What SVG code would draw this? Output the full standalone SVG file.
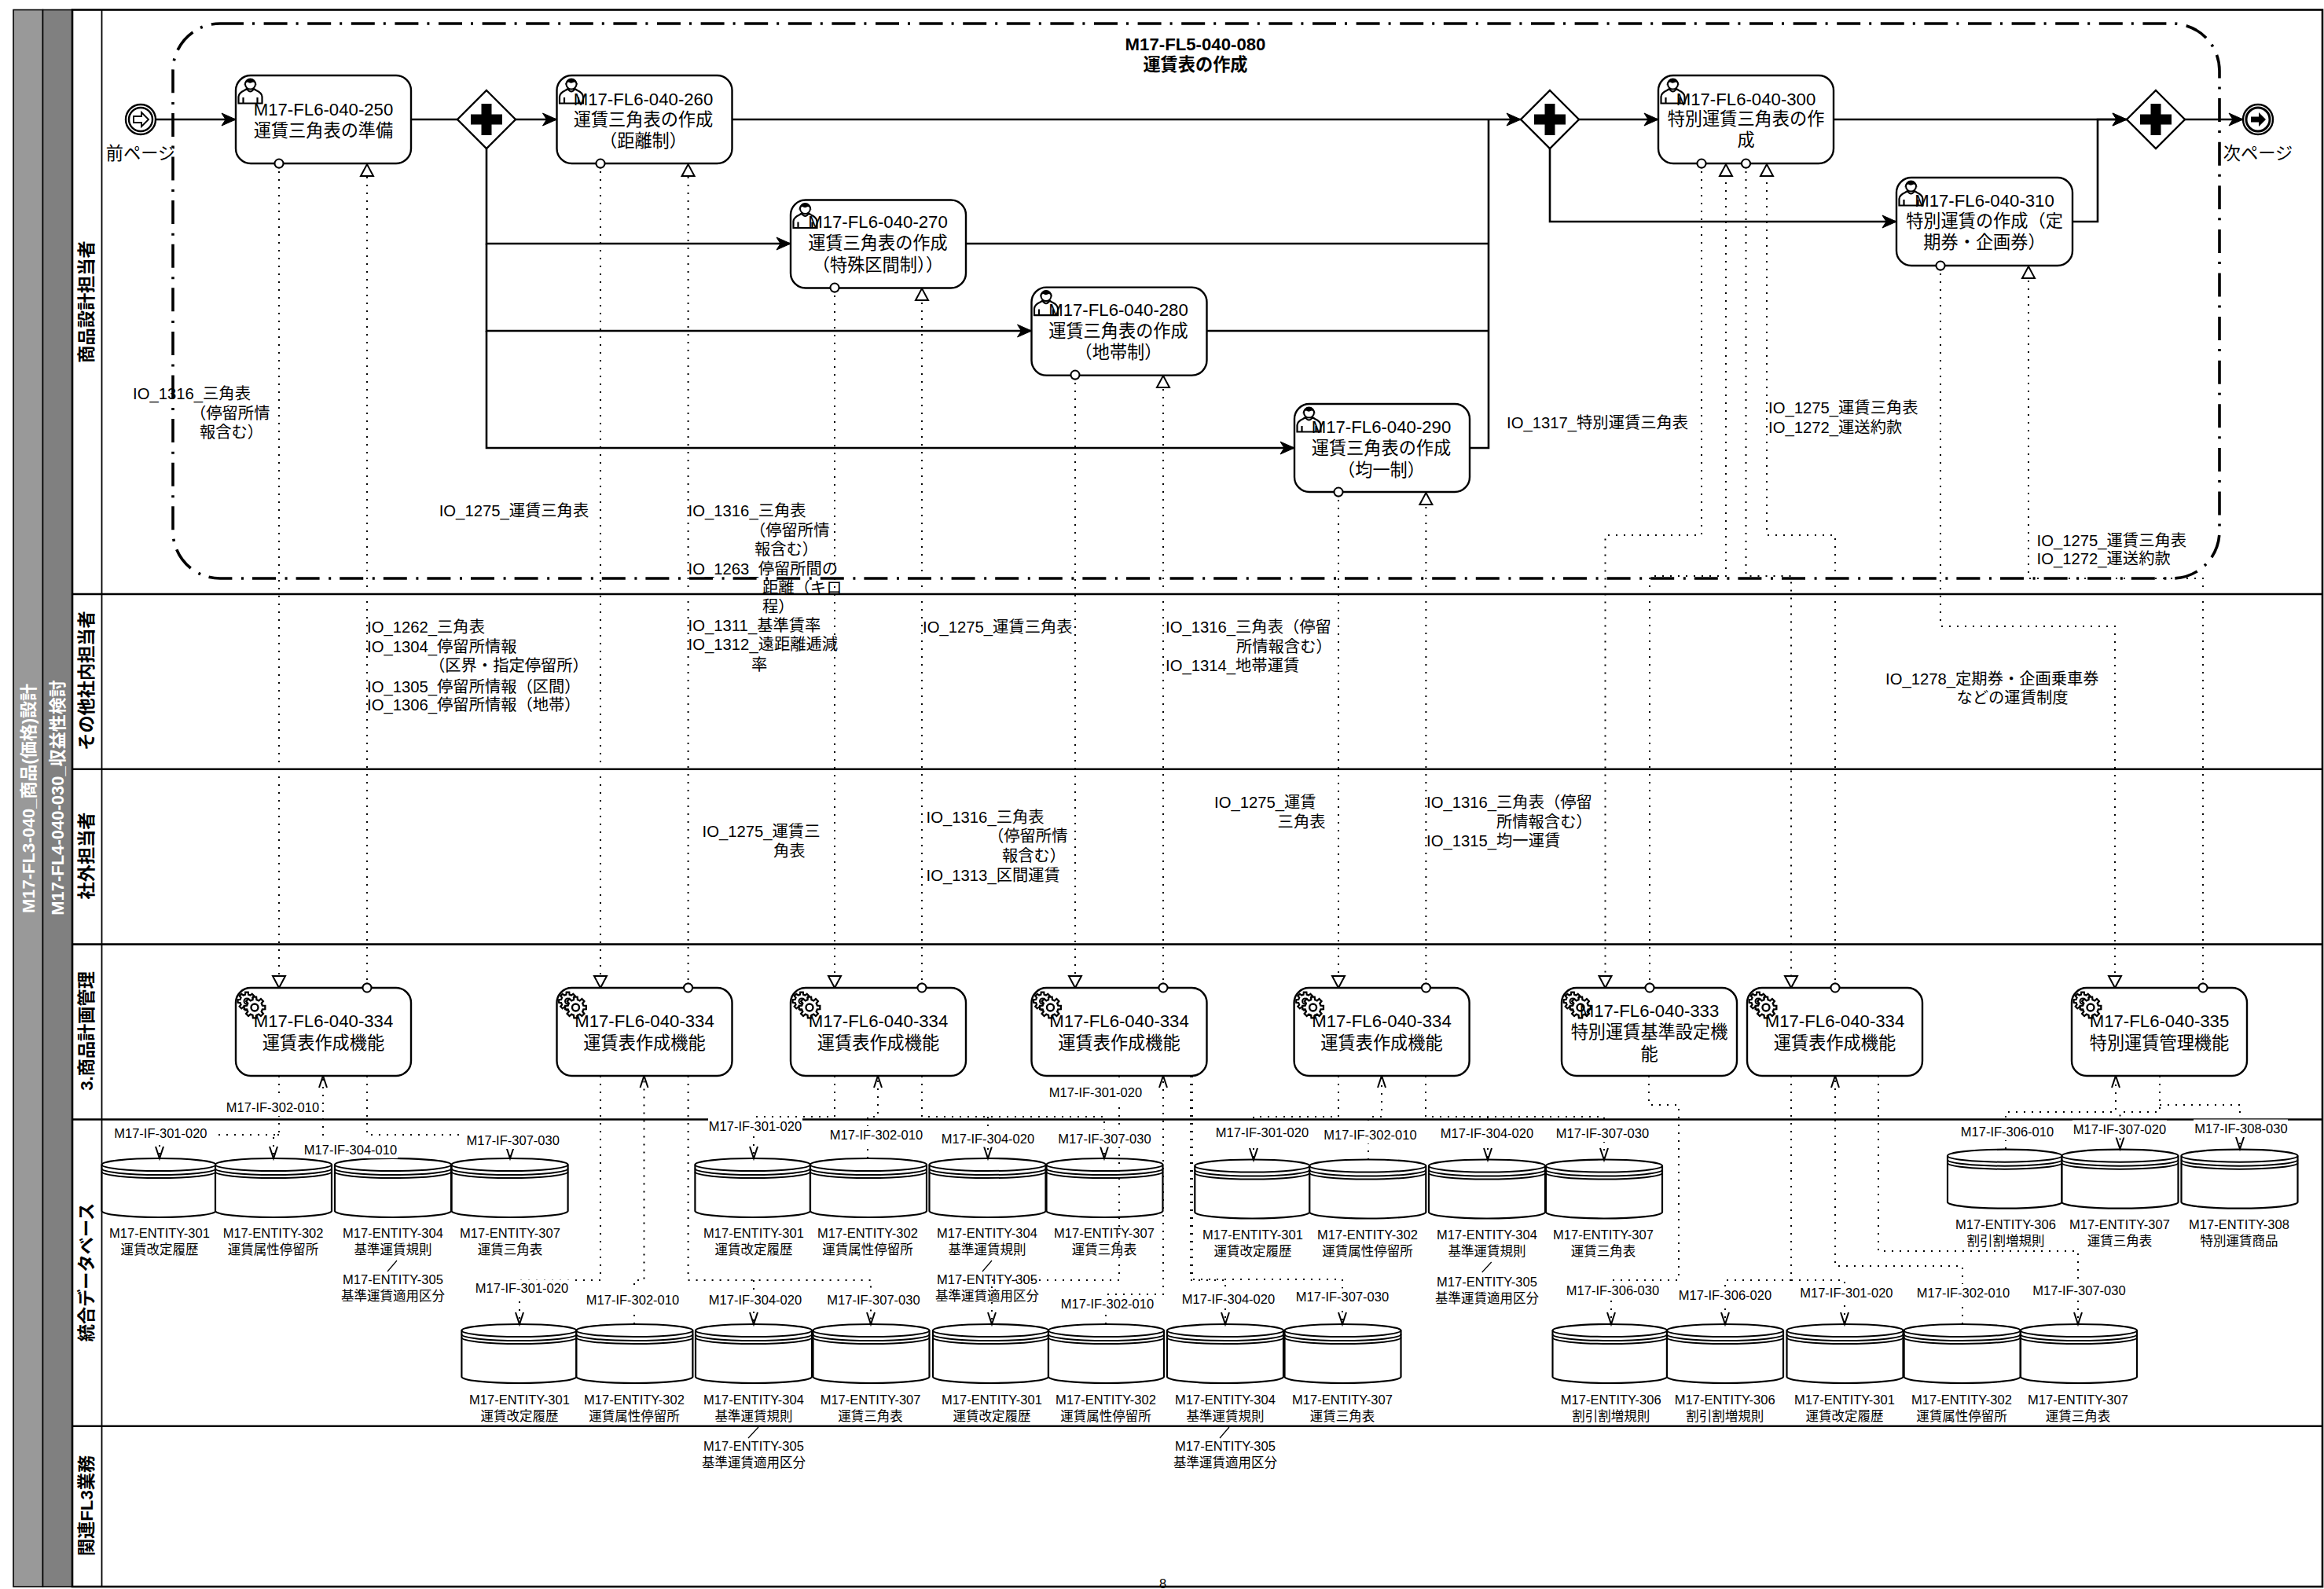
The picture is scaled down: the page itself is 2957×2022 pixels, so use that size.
<svg xmlns="http://www.w3.org/2000/svg" width="2957" height="2022" viewBox="0 0 2957 2022">
<style>
text{font-family:"Liberation Sans","Noto Sans CJK JP",sans-serif;fill:#000;dominant-baseline:central}
.t{font-size:22.2px;text-anchor:middle}
.b{font-size:22.2px;font-weight:bold;text-anchor:middle}
.w{font-size:22px;font-weight:bold;text-anchor:middle;fill:#fff}
.io{font-size:20.3px}
.s{font-size:16.5px;text-anchor:middle}
.n{fill:#fff;stroke:#000;stroke-width:2.4}
.c{fill:#fff;stroke:#000;stroke-width:2}
.lane{fill:none;stroke:#000;stroke-width:2.6}
.sf{fill:none;stroke:#000;stroke-width:2.6;marker-end:url(#seq)}
.sl{fill:none;stroke:#000;stroke-width:2.6}
.mf{fill:none;stroke:#000;stroke-width:2;stroke-dasharray:2 8}
.mm{marker-start:url(#dot);marker-end:url(#tri)}
.oa{marker-end:url(#open)}
.sl2{fill:none;stroke:#000;stroke-width:1.2}
.bg{fill:#fff;stroke:none}
</style>
<defs>
<marker id="seq" markerUnits="userSpaceOnUse" markerWidth="20" markerHeight="18" refX="18" refY="8" orient="auto" overflow="visible"><path d="M0,0 L18,8 L0,16 L5,8 Z" fill="#000" stroke="#000"/></marker>
<marker id="tri" markerUnits="userSpaceOnUse" markerWidth="18" markerHeight="18" refX="15" refY="8" orient="auto" overflow="visible"><path d="M0,0 L15,8 L0,16 Z" fill="#fff" stroke="#000" stroke-width="2"/></marker>
<marker id="dot" markerUnits="userSpaceOnUse" markerWidth="14" markerHeight="14" refX="7" refY="7" overflow="visible"><circle cx="7" cy="7" r="5.5" fill="#fff" stroke="#000" stroke-width="2"/></marker>
<marker id="open" markerUnits="userSpaceOnUse" markerWidth="16" markerHeight="12" refX="15" refY="5" orient="auto" overflow="visible"><path d="M0,0 L15,5 L0,10" fill="none" stroke="#000" stroke-width="2"/></marker>
<g id="ds"><path d="M0,8 A74,8 0 0 1 148,8 V67 A74,8 0 0 1 0,67 Z" fill="#fff" stroke="#000" stroke-width="2.2"/><path d="M0,8 A74,8 0 0 0 148,8 M0,13 A74,8 0 0 0 148,13 M0,17 A74,8 0 0 0 148,17" fill="none" stroke="#000" stroke-width="2"/></g>
<g id="gw"><polygon points="0,-37 37,0 0,37 -37,0" fill="#fff" stroke="#000" stroke-width="2.4"/><path d="M-20,-6.5 H-6.5 V-20 H6.5 V-6.5 H20 V6.5 H6.5 V20 H-6.5 V6.5 H-20 Z" fill="#000"/></g>
<g id="user"><path d="M3.5,35.5 V27 Q4,22 11,19 L14,17 Q18.5,24 23,17 L26,19 Q33,22 33.5,27 V35.5 Z M9.5,28 V35.5 M27.5,28 V35.5" fill="#fff" stroke="#000" stroke-width="2.2"/><circle cx="18.5" cy="11" r="6.5" fill="#fff" stroke="#000" stroke-width="2"/><path d="M10.5,13 A8,9 0 1 1 26.5,13 C25.5,10 24,9 22,8.5 C19,10 17,10 15,8.5 C13,9 11.5,10 10.5,13 Z" fill="#000"/></g>
<polygon id="cog" points="7.28,-1.81 9.88,-1.56 9.88,1.56 7.28,1.81 6.43,3.86 8.09,5.88 5.88,8.09 3.86,6.43 1.81,7.28 1.56,9.88 -1.56,9.88 -1.81,7.28 -3.86,6.43 -5.88,8.09 -8.09,5.88 -6.43,3.86 -7.28,1.81 -9.88,1.56 -9.88,-1.56 -7.28,-1.81 -6.43,-3.86 -8.09,-5.88 -5.88,-8.09 -3.86,-6.43 -1.81,-7.28 -1.56,-9.88 1.56,-9.88 1.81,-7.28 3.86,-6.43 5.88,-8.09 8.09,-5.88 6.43,-3.86" fill="#fff" stroke="#000"/>
<g id="gear"><use href="#cog" transform="translate(14,17) scale(1.15)" stroke-width="1.9"/><circle cx="14" cy="17" r="3.5" fill="#fff" stroke="#000" stroke-width="2"/><use href="#cog" transform="translate(24,25) scale(1.35)" stroke-width="1.7"/><circle cx="24" cy="25" r="4.5" fill="#fff" stroke="#000" stroke-width="2.4"/></g>
</defs>
<rect width="2957" height="2022" fill="#fff"/>
<g id="lanes">
<rect x="17" y="12.5" width="37.5" height="2006.5" fill="#999" stroke="#000" stroke-width="1.6"/>
<rect x="54.5" y="12.5" width="37.5" height="2006.5" fill="#808080" stroke="#000" stroke-width="1.6"/>
<rect x="92" y="12.5" width="2863" height="2006.5" fill="#fff" stroke="#000" stroke-width="2.6"/>
<path class="sl2" style="stroke-width:1.8" d="M129.5,12.5 V2019"/>
<path class="lane" d="M92,756 H2955 M92,978.7 H2955 M92,1201.6 H2955 M92,1424.5 H2955 M92,1814.7 H2955"/>
<text class="w" transform="translate(36,1016) rotate(-90)">M17-FL3-040_商品(価格)設計</text>
<text class="w" transform="translate(73,1015) rotate(-90)">M17-FL4-040-030_収益性検討</text>
<text class="b" transform="translate(110,384) rotate(-90)">商品設計担当者</text>
<text class="b" transform="translate(110,866) rotate(-90)">その他社内担当者</text>
<text class="b" transform="translate(110,1089) rotate(-90)">社外担当者</text>
<text class="b" transform="translate(110,1312) rotate(-90)">3.商品計画管理</text>
<text class="b" transform="translate(110,1619) rotate(-90)">統合データベース</text>
<text class="b" transform="translate(110,1916) rotate(-90)">関連FL3業務</text>
</g>
<g id="subprocess-m17-fl5-040-080">
<rect x="220" y="30" width="2604" height="706" rx="60" ry="60" fill="none" stroke="#000" stroke-width="3.6" stroke-dasharray="30 11 3 11.6"/>
<text class="b" x="1521" y="56.7">M17-FL5-040-080</text>
<text class="b" x="1521" y="82">運賃表の作成</text>
</g>
<g id="datastores">
<g id="ds-a1"><use href="#ds" transform="translate(129.5,1474) scale(.98,1)"/><text class="s" x="203" y="1568.6">M17-ENTITY-301</text><text class="s" x="203" y="1589.6">運賃改定履歴</text></g>
<g id="ds-a2"><use href="#ds" x="274" y="1474"/><text class="s" x="347.6" y="1568.6">M17-ENTITY-302</text><text class="s" x="347.6" y="1589.6">運賃属性停留所</text></g>
<g id="ds-a3"><use href="#ds" x="426" y="1474"/><path class="sl2" d="M505,1604 L493,1618"/><text class="s" x="500" y="1568.6">M17-ENTITY-304</text><text class="s" x="500" y="1589.6">基準運賃規則</text><text class="s" x="500" y="1628.4">M17-ENTITY-305</text><text class="s" x="500" y="1649">基準運賃適用区分</text></g>
<g id="ds-a4"><use href="#ds" x="574.6" y="1474"/><text class="s" x="649" y="1568.6">M17-ENTITY-307</text><text class="s" x="649" y="1589.6">運賃三角表</text></g>
<g id="ds-b1"><use href="#ds" transform="translate(587.4,1685) scale(.986,1)"/><text class="s" x="661" y="1780.5">M17-ENTITY-301</text><text class="s" x="661" y="1801.5">運賃改定履歴</text></g>
<g id="ds-b2"><use href="#ds" x="733.4" y="1685"/><text class="s" x="807" y="1780.5">M17-ENTITY-302</text><text class="s" x="807" y="1801.5">運賃属性停留所</text></g>
<g id="ds-b3"><use href="#ds" x="885" y="1685"/><path class="sl2" d="M965,1816 L952,1830"/><text class="s" x="959" y="1780.5">M17-ENTITY-304</text><text class="s" x="959" y="1801.5">基準運賃規則</text><text class="s" x="959" y="1840">M17-ENTITY-305</text><text class="s" x="959" y="1860.7">基準運賃適用区分</text></g>
<g id="ds-b4"><use href="#ds" x="1034.5" y="1685"/><text class="s" x="1107.6" y="1780.5">M17-ENTITY-307</text><text class="s" x="1107.6" y="1801.5">運賃三角表</text></g>
<g id="ds-b5"><use href="#ds" transform="translate(1187,1685) scale(.993,1)"/><text class="s" x="1262" y="1780.5">M17-ENTITY-301</text><text class="s" x="1262" y="1801.5">運賃改定履歴</text></g>
<g id="ds-b6"><use href="#ds" transform="translate(1334,1685) scale(.993,1)"/><text class="s" x="1407" y="1780.5">M17-ENTITY-302</text><text class="s" x="1407" y="1801.5">運賃属性停留所</text></g>
<g id="ds-b7"><use href="#ds" x="1485" y="1685"/><path class="sl2" d="M1564,1816 L1552,1830"/><text class="s" x="1559" y="1780.5">M17-ENTITY-304</text><text class="s" x="1559" y="1801.5">基準運賃規則</text><text class="s" x="1559" y="1840">M17-ENTITY-305</text><text class="s" x="1559" y="1860.7">基準運賃適用区分</text></g>
<g id="ds-b8"><use href="#ds" x="1634.5" y="1685"/><text class="s" x="1708" y="1780.5">M17-ENTITY-307</text><text class="s" x="1708" y="1801.5">運賃三角表</text></g>
<g id="ds-c1"><use href="#ds" transform="translate(884.4,1474) scale(.99,1)"/><text class="s" x="959" y="1568.6">M17-ENTITY-301</text><text class="s" x="959" y="1589.6">運賃改定履歴</text></g>
<g id="ds-c2"><use href="#ds" x="1031" y="1474"/><text class="s" x="1104" y="1568.6">M17-ENTITY-302</text><text class="s" x="1104" y="1589.6">運賃属性停留所</text></g>
<g id="ds-c3"><use href="#ds" x="1182.5" y="1474"/><path class="sl2" d="M1262,1604 L1250,1618"/><text class="s" x="1256" y="1568.6">M17-ENTITY-304</text><text class="s" x="1256" y="1589.6">基準運賃規則</text><text class="s" x="1256" y="1628.4">M17-ENTITY-305</text><text class="s" x="1256" y="1649">基準運賃適用区分</text></g>
<g id="ds-c4"><use href="#ds" x="1331.5" y="1474"/><text class="s" x="1405" y="1568.6">M17-ENTITY-307</text><text class="s" x="1405" y="1589.6">運賃三角表</text></g>
<g id="ds-d1"><use href="#ds" transform="translate(1520.3,1475.5) scale(.986,1)"/><text class="s" x="1594" y="1570.7">M17-ENTITY-301</text><text class="s" x="1594" y="1591.7">運賃改定履歴</text></g>
<g id="ds-d2"><use href="#ds" x="1666.3" y="1475.5"/><text class="s" x="1740" y="1570.7">M17-ENTITY-302</text><text class="s" x="1740" y="1591.7">運賃属性停留所</text></g>
<g id="ds-d3"><use href="#ds" x="1818" y="1475.5"/><path class="sl2" d="M1897.7,1606 L1885.7,1619"/><text class="s" x="1892" y="1570.7">M17-ENTITY-304</text><text class="s" x="1892" y="1591.7">基準運賃規則</text><text class="s" x="1892" y="1630.5">M17-ENTITY-305</text><text class="s" x="1892" y="1651.5">基準運賃適用区分</text></g>
<g id="ds-d4"><use href="#ds" x="1967" y="1475.5"/><text class="s" x="2040" y="1570.7">M17-ENTITY-307</text><text class="s" x="2040" y="1591.7">運賃三角表</text></g>
<g id="ds-e1"><use href="#ds" transform="translate(1975.5,1685) scale(.983,1)"/><text class="s" x="2049.7" y="1780.5">M17-ENTITY-306</text><text class="s" x="2049.7" y="1801.5">割引割増規則</text></g>
<g id="ds-e2"><use href="#ds" x="2121" y="1685"/><text class="s" x="2194.7" y="1780.5">M17-ENTITY-306</text><text class="s" x="2194.7" y="1801.5">割引割増規則</text></g>
<g id="ds-e3"><use href="#ds" x="2273.5" y="1685"/><text class="s" x="2347" y="1780.5">M17-ENTITY-301</text><text class="s" x="2347" y="1801.5">運賃改定履歴</text></g>
<g id="ds-e4"><use href="#ds" x="2422.6" y="1685"/><text class="s" x="2496" y="1780.5">M17-ENTITY-302</text><text class="s" x="2496" y="1801.5">運賃属性停留所</text></g>
<g id="ds-e5"><use href="#ds" x="2571" y="1685"/><text class="s" x="2644" y="1780.5">M17-ENTITY-307</text><text class="s" x="2644" y="1801.5">運賃三角表</text></g>
<g id="ds-f1"><use href="#ds" transform="translate(2478,1462.7) scale(.983,1)"/><text class="s" x="2552" y="1557.6">M17-ENTITY-306</text><text class="s" x="2552" y="1578.6">割引割増規則</text></g>
<g id="ds-f2"><use href="#ds" x="2623.5" y="1462.7"/><text class="s" x="2697" y="1557.6">M17-ENTITY-307</text><text class="s" x="2697" y="1578.6">運賃三角表</text></g>
<g id="ds-f3"><use href="#ds" x="2775.5" y="1462.7"/><text class="s" x="2849" y="1557.6">M17-ENTITY-308</text><text class="s" x="2849" y="1578.6">特別運賃商品</text></g>
</g>
<g id="connectors">
<path class="sf" d="M198,152 H300"/>
<path class="sl" d="M523,152 H582"/>
<path class="sf" d="M656,152 H708.5"/>
<path class="sf" d="M931.5,152 H1935"/>
<path class="sf" d="M619,189 V310 H1006"/>
<path class="sf" d="M619,310 V421 H1312.5"/>
<path class="sf" d="M619,421 V570 H1647"/>
<path class="sl" d="M1229,310 H1894 M1535.5,421 H1894 M1870,570 H1894 V152"/>
<path class="sf" d="M2009,152 H2110"/>
<path class="sf" d="M1972,189 V282 H2413"/>
<path class="sf" d="M2333,152 H2706"/>
<path class="sf" d="M2637,282 H2669 V152 H2706"/>
<path class="sf" d="M2780,152 H2854"/>
<path class="mf mm" d="M355,208 V1257"/><path class="mf mm" d="M467,1257 V209"/>
<path class="mf mm" d="M764,208 V1257"/><path class="mf mm" d="M875.6,1257 V209"/>
<path class="mf mm" d="M1062,366 V1257"/><path class="mf mm" d="M1173,1257 V367"/>
<path class="mf mm" d="M1368,477 V1257"/><path class="mf mm" d="M1480,1257 V478"/>
<path class="mf mm" d="M1703,626 V1257"/><path class="mf mm" d="M1814.4,1257 V627"/>
<path class="mf mm" d="M2165,208 V681 H2042.5 V1257"/>
<path class="mf mm" d="M2099,1257 V733 H2196 V209"/>
<path class="mf mm" d="M2221.5,208 V733 H2279 V1257"/>
<path class="mf mm" d="M2335,1257 V681 H2248 V209"/>
<path class="mf mm" d="M2469,338 V797 H2691 V1257"/>
<path class="mf mm" d="M2803,1257 V736 H2581 V339"/>
<path class="mf" d="M355,1369 V1444 H271"/><path class="mf oa" d="M203,1457 V1474"/><path class="mf oa" d="M355,1444 H348 V1474"/>
<path class="mf oa" d="M411,1455 V1369"/><path class="mf" d="M467,1369 V1444 H590"/><path class="mf oa" d="M649,1460 V1474"/>
<path class="mf oa" d="M764,1369 V1629 H661 V1685"/><path class="mf oa" d="M807,1685 V1629 H819.5 V1369"/>
<path class="mf oa" d="M875.6,1369 V1629 H1108 V1685"/><path class="mf oa" d="M959,1629 V1685"/>
<path class="mf oa" d="M1062,1369 V1421 H959 V1474"/><path class="mf oa" d="M1104,1474 V1421 H1117 V1369"/>
<path class="mf oa" d="M1173,1369 V1421 H1405 V1474"/><path class="mf oa" d="M1257,1421 V1474"/>
<path class="mf oa" d="M1424,1369 V1629 H1262 V1685"/><path class="mf oa" d="M1407,1685 V1647 H1480 V1369"/>
<path class="mf oa" d="M1515,1369 V1629 H1559 V1685"/><path class="mf oa" d="M1517,1369 V1628 H1708 V1685"/>
<path class="mf oa" d="M1703,1369 V1421 H1595 V1476"/><path class="mf oa" d="M1741,1476 V1421 H1758 V1369"/>
<path class="mf oa" d="M1814,1369 V1421 H2041 V1476"/><path class="mf oa" d="M1893,1421 V1476"/>
<path class="mf oa" d="M2098,1369 V1406 H2136 V1629 H2050 V1685"/>
<path class="mf oa" d="M2279,1369 V1629 H2195 V1685"/><path class="mf oa" d="M2279,1629 H2347 V1685"/>
<path class="mf oa" d="M2497,1685 V1611 H2335 V1369"/>
<path class="mf oa" d="M2390,1369 V1592 H2644 V1685"/>
<path class="mf oa" d="M2552,1462 V1415 H2692 V1369"/>
<path class="mf oa" d="M2748,1369 V1415 H2697.5 V1462"/>
<path class="mf oa" d="M2748,1406 H2850 V1462"/>
</g>
<g id="if-labels">
<rect class="bg" x="287" y="1398" width="120" height="22"/><text class="s" x="347" y="1409">M17-IF-302-010</text>
<rect class="bg" x="144" y="1431" width="120" height="22"/><text class="s" x="204.4" y="1442">M17-IF-301-020</text>
<rect class="bg" x="386" y="1452" width="120" height="22"/><text class="s" x="446" y="1463">M17-IF-304-010</text>
<rect class="bg" x="593" y="1440" width="120" height="22"/><text class="s" x="652.7" y="1451">M17-IF-307-030</text>
<rect class="bg" x="604" y="1628.4" width="120" height="22"/><text class="s" x="664" y="1639.4">M17-IF-301-020</text>
<rect class="bg" x="745" y="1643" width="120" height="22"/><text class="s" x="805" y="1654">M17-IF-302-010</text>
<rect class="bg" x="901" y="1643" width="120" height="22"/><text class="s" x="961" y="1654">M17-IF-304-020</text>
<rect class="bg" x="1051" y="1643" width="120" height="22"/><text class="s" x="1111.5" y="1654">M17-IF-307-030</text>
<rect class="bg" x="901" y="1422" width="120" height="22"/><text class="s" x="961" y="1433">M17-IF-301-020</text>
<rect class="bg" x="1055" y="1433" width="120" height="22"/><text class="s" x="1115" y="1444">M17-IF-302-010</text>
<rect class="bg" x="1197" y="1437.6" width="120" height="22"/><text class="s" x="1257" y="1448.6">M17-IF-304-020</text>
<rect class="bg" x="1345" y="1437.6" width="120" height="22"/><text class="s" x="1405.5" y="1448.6">M17-IF-307-030</text>
<rect class="bg" x="1334" y="1379" width="120" height="22"/><text class="s" x="1394" y="1390">M17-IF-301-020</text>
<rect class="bg" x="1349" y="1648" width="120" height="22"/><text class="s" x="1409" y="1659">M17-IF-302-010</text>
<rect class="bg" x="1503" y="1641.5" width="120" height="22"/><text class="s" x="1563" y="1652.5">M17-IF-304-020</text>
<rect class="bg" x="1648" y="1639.4" width="120" height="22"/><text class="s" x="1708" y="1650.4">M17-IF-307-030</text>
<rect class="bg" x="1546" y="1431" width="120" height="22"/><text class="s" x="1606" y="1441">M17-IF-301-020</text>
<rect class="bg" x="1683" y="1433.4" width="120" height="22"/><text class="s" x="1743.5" y="1444.4">M17-IF-302-010</text>
<rect class="bg" x="1832" y="1431" width="120" height="22"/><text class="s" x="1892" y="1442">M17-IF-304-020</text>
<rect class="bg" x="1979" y="1431" width="120" height="22"/><text class="s" x="2039" y="1442">M17-IF-307-030</text>
<rect class="bg" x="1992" y="1630.5" width="120" height="22"/><text class="s" x="2052" y="1641.5">M17-IF-306-030</text>
<rect class="bg" x="2135" y="1637" width="120" height="22"/><text class="s" x="2195" y="1648">M17-IF-306-020</text>
<rect class="bg" x="2289" y="1634" width="120" height="22"/><text class="s" x="2349.4" y="1645">M17-IF-301-020</text>
<rect class="bg" x="2438" y="1634" width="120" height="22"/><text class="s" x="2498" y="1645">M17-IF-302-010</text>
<rect class="bg" x="2585" y="1630.5" width="120" height="22"/><text class="s" x="2645.5" y="1641.5">M17-IF-307-030</text>
<rect class="bg" x="2494" y="1429" width="120" height="22"/><text class="s" x="2554" y="1440">M17-IF-306-010</text>
<rect class="bg" x="2637" y="1425.5" width="120" height="22"/><text class="s" x="2697" y="1436.5">M17-IF-307-020</text>
<rect class="bg" x="2791" y="1424.5" width="120" height="22"/><text class="s" x="2851.5" y="1435.5">M17-IF-308-030</text>
</g>
<g id="start"><circle class="n" cx="179" cy="152" r="19"/><circle class="n" cx="179" cy="152" r="15"/><path d="M170,148 H180 V143 L189,152 L180,161 V156 H170 Z" fill="#fff" stroke="#000" stroke-width="1.8"/><text class="t" x="179" y="195">前ページ</text></g>
<g id="end"><circle class="n" cx="2873" cy="152" r="19"/><circle cx="2873" cy="152" r="15" fill="#fff" stroke="#000" stroke-width="3"/><path d="M2864,148.5 H2874 V143 L2883,152 L2874,161 V155.5 H2864 Z" fill="#000"/><text class="t" x="2873" y="195">次ページ</text></g>
<use id="gateway-1" href="#gw" x="619" y="152"/>
<use id="gateway-2" href="#gw" x="1972" y="152"/>
<use id="gateway-3" href="#gw" x="2743" y="152"/>
<g id="task-250"><rect class="n" x="300" y="96" width="223" height="112" rx="19"/><use href="#user" x="300" y="96"/><text class="t" x="411.5" y="139">M17-FL6-040-250</text><text class="t" x="411.5" y="166">運賃三角表の準備</text></g>
<g id="task-260"><rect class="n" x="708.5" y="96" width="223" height="112" rx="19"/><use href="#user" x="708.5" y="96"/><text class="t" x="818.5" y="126">M17-FL6-040-260</text><text class="t" x="818.5" y="152">運賃三角表の作成</text><text class="t" x="818.5" y="179.5">（距離制）</text></g>
<g id="task-270"><rect class="n" x="1006" y="254.5" width="223" height="112" rx="19"/><use href="#user" x="1006" y="254.5"/><text class="t" x="1117" y="282.6">M17-FL6-040-270</text><text class="t" x="1117" y="309">運賃三角表の作成</text><text class="t" x="1117" y="337">（特殊区間制））</text></g>
<g id="task-280"><rect class="n" x="1312.5" y="365.6" width="223" height="112" rx="19"/><use href="#user" x="1312.5" y="365.6"/><text class="t" x="1423" y="394.6">M17-FL6-040-280</text><text class="t" x="1423" y="421">運賃三角表の作成</text><text class="t" x="1423" y="448.6">（地帯制）</text></g>
<g id="task-290"><rect class="n" x="1647" y="514" width="223" height="112" rx="19"/><use href="#user" x="1647" y="514"/><text class="t" x="1757.5" y="543.7">M17-FL6-040-290</text><text class="t" x="1757.5" y="570">運賃三角表の作成</text><text class="t" x="1757.5" y="598">（均一制）</text></g>
<g id="task-300"><rect class="n" x="2110" y="96" width="223" height="112" rx="19"/><use href="#user" x="2110" y="96"/><text class="t" x="2221.5" y="126">M17-FL6-040-300</text><text class="t" x="2221.5" y="151.5">特別運賃三角表の作</text><text class="t" x="2221.5" y="178.6">成</text></g>
<g id="task-310"><rect class="n" x="2413" y="226" width="224" height="112" rx="19"/><use href="#user" x="2413" y="226"/><text class="t" x="2525" y="255">M17-FL6-040-310</text><text class="t" x="2525" y="281.6">特別運賃の作成（定</text><text class="t" x="2525" y="308.7">期券・企画券）</text></g>
<g id="sys-1"><rect class="n" x="300" y="1257" width="223" height="112" rx="19"/><use href="#gear" x="300" y="1257"/><text class="t" x="411.5" y="1299.6">M17-FL6-040-334</text><text class="t" x="411.5" y="1327.4">運賃表作成機能</text></g>
<g id="sys-2"><rect class="n" x="708.5" y="1257" width="223" height="112" rx="19"/><use href="#gear" x="708.5" y="1257"/><text class="t" x="820" y="1299.6">M17-FL6-040-334</text><text class="t" x="820" y="1327.4">運賃表作成機能</text></g>
<g id="sys-3"><rect class="n" x="1006" y="1257" width="223" height="112" rx="19"/><use href="#gear" x="1006" y="1257"/><text class="t" x="1117.5" y="1299.6">M17-FL6-040-334</text><text class="t" x="1117.5" y="1327.4">運賃表作成機能</text></g>
<g id="sys-4"><rect class="n" x="1312.5" y="1257" width="223" height="112" rx="19"/><use href="#gear" x="1312.5" y="1257"/><text class="t" x="1424" y="1299.6">M17-FL6-040-334</text><text class="t" x="1424" y="1327.4">運賃表作成機能</text></g>
<g id="sys-5"><rect class="n" x="1646.6" y="1257" width="223" height="112" rx="19"/><use href="#gear" x="1646.6" y="1257"/><text class="t" x="1758" y="1299.6">M17-FL6-040-334</text><text class="t" x="1758" y="1327.4">運賃表作成機能</text></g>
<g id="sys-6"><rect class="n" x="1987" y="1257" width="223" height="112" rx="19"/><use href="#gear" x="1987" y="1257"/><text class="t" x="2098.5" y="1286.5">M17-FL6-040-333</text><text class="t" x="2098.5" y="1313.8">特別運賃基準設定機</text><text class="t" x="2098.5" y="1341.6">能</text></g>
<g id="sys-7"><rect class="n" x="2223" y="1257" width="223" height="112" rx="19"/><use href="#gear" x="2223" y="1257"/><text class="t" x="2334.5" y="1299.6">M17-FL6-040-334</text><text class="t" x="2334.5" y="1327.4">運賃表作成機能</text></g>
<g id="sys-8"><rect class="n" x="2636" y="1257" width="223" height="112" rx="19"/><use href="#gear" x="2636" y="1257"/><text class="t" x="2747.5" y="1299.6">M17-FL6-040-335</text><text class="t" x="2747.5" y="1327.4">特別運賃管理機能</text></g>
<g id="port-markers">
<circle class="c" cx="467" cy="1257" r="5.5"/><circle class="c" cx="875.6" cy="1257" r="5.5"/><circle class="c" cx="1173" cy="1257" r="5.5"/><circle class="c" cx="1480" cy="1257" r="5.5"/><circle class="c" cx="1814.4" cy="1257" r="5.5"/><circle class="c" cx="2099" cy="1257" r="5.5"/><circle class="c" cx="2335" cy="1257" r="5.5"/><circle class="c" cx="2803" cy="1257" r="5.5"/>
<circle class="c" cx="355" cy="208" r="5.5"/><circle class="c" cx="764" cy="208" r="5.5"/><circle class="c" cx="1062" cy="366" r="5.5"/><circle class="c" cx="1368" cy="477" r="5.5"/><circle class="c" cx="1703" cy="626" r="5.5"/><circle class="c" cx="2165" cy="208" r="5.5"/><circle class="c" cx="2221.5" cy="208" r="5.5"/><circle class="c" cx="2469" cy="338" r="5.5"/>
</g>
<g id="io-labels">
<text class="io" x="169" y="501">IO_1316_三角表</text><text class="io" x="242" y="526">（停留所情</text><text class="io" x="254" y="550">報含む）</text>
<text class="io" x="558.7" y="650">IO_1275_運賃三角表</text>
<text class="io" x="875.6" y="650">IO_1316_三角表</text><text class="io" x="954" y="674.6">（停留所情</text><text class="io" x="960" y="698.7">報含む）</text><text class="io" x="875.6" y="723.5">IO_1263_停留所間の</text><text class="io" x="970" y="748">距離（キロ</text><text class="io" x="970" y="772">程）</text><text class="io" x="875.6" y="795.7">IO_1311_基準賃率</text><text class="io" x="875.6" y="820">IO_1312_遠距離逓減</text><text class="io" x="956" y="846">率</text>
<text class="io" x="467" y="798">IO_1262_三角表</text><text class="io" x="467" y="822.6">IO_1304_停留所情報</text><text class="io" x="546" y="846.7">（区界・指定停留所）</text><text class="io" x="467" y="873.6">IO_1305_停留所情報（区間）</text><text class="io" x="467" y="897">IO_1306_停留所情報（地帯）</text>
<text class="io" x="1174" y="798">IO_1275_運賃三角表</text>
<text class="io" x="1483" y="798">IO_1316_三角表（停留</text><text class="io" x="1573" y="822.6">所情報含む）</text><text class="io" x="1483" y="846.7">IO_1314_地帯運賃</text>
<text class="io" x="893.5" y="1058">IO_1275_運賃三</text><text class="io" x="984" y="1083">角表</text>
<text class="io" x="1178.6" y="1040">IO_1316_三角表</text><text class="io" x="1257" y="1064">（停留所情</text><text class="io" x="1275" y="1089">報含む）</text><text class="io" x="1178.6" y="1114">IO_1313_区間運賃</text>
<text class="io" x="1545" y="1021">IO_1275_運賃</text><text class="io" x="1625.6" y="1046">三角表</text>
<text class="io" x="1815" y="1021">IO_1316_三角表（停留</text><text class="io" x="1904" y="1046">所情報含む）</text><text class="io" x="1815" y="1070">IO_1315_均一運賃</text>
<text class="io" x="1917" y="538">IO_1317_特別運賃三角表</text>
<text class="io" x="2250" y="519">IO_1275_運賃三角表</text><text class="io" x="2250" y="544">IO_1272_運送約款</text>
<text class="io" x="2591.5" y="688">IO_1275_運賃三角表</text><text class="io" x="2591.5" y="711">IO_1272_運送約款</text>
<text class="io" x="2399" y="863.5">IO_1278_定期券・企画乗車券</text><text class="io" x="2489.5" y="888">などの運賃制度</text>
</g>
<text class="s" x="1479.5" y="2015">8</text>
</svg>
